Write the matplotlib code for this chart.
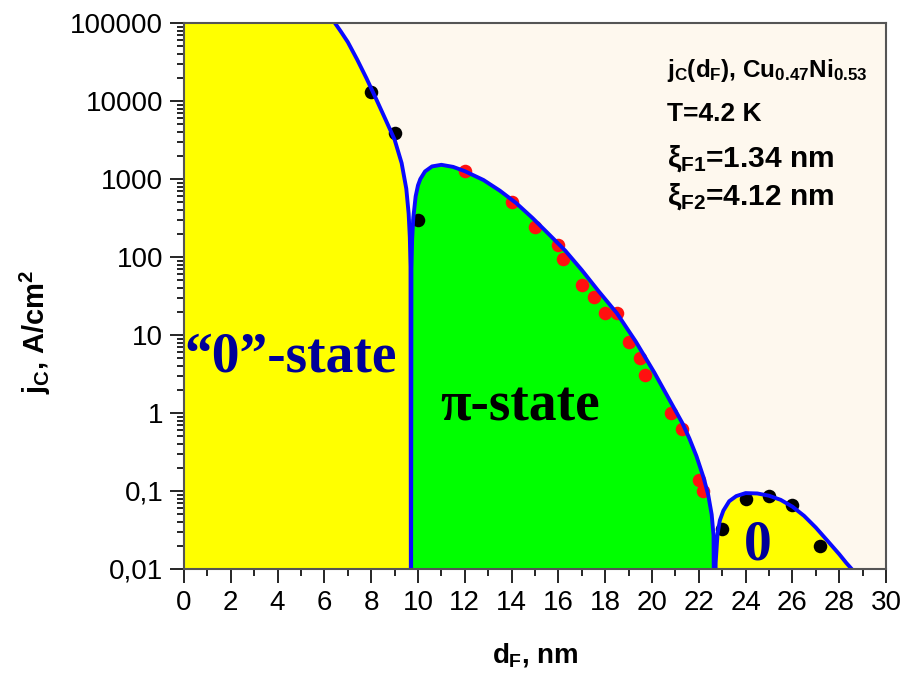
import matplotlib
matplotlib.use('Agg')
import matplotlib.pyplot as plt
from matplotlib.ticker import FixedLocator, FixedFormatter, LogLocator, NullFormatter, MultipleLocator
import numpy as np

# fitted curve, split at the zero crossings
x_zero = [6.3, 6.45, 6.7, 7.0, 7.4, 7.8, 8.2, 8.6, 9.0, 9.3, 9.5, 9.6, 9.65, 9.68, 9.70]
y_zero = [120000, 100000, 78000, 57000, 34000, 19500, 10800, 5900, 3200, 1600, 750, 360, 180, 75, 1e-4]

x_pi = [9.70, 9.72, 9.75, 9.8, 9.9, 10.0, 10.1, 10.3, 10.6, 11.0, 11.5, 12.0, 12.8, 13.5,
        14.2, 14.9, 15.6, 16.3, 17.0, 17.7, 18.5, 19.3, 20.1, 20.8, 21.3, 21.6, 21.9,
        22.2, 22.4, 22.55, 22.63, 22.68]
y_pi = [1e-4, 70, 170, 320, 600, 830, 1000, 1250, 1450, 1520, 1430, 1260, 970, 708,
        490, 315, 195, 120, 68, 37, 19, 8.3, 3.3, 1.38, 0.74, 0.47, 0.28,
        0.15, 0.09, 0.05, 0.027, 1e-4]

x_zero2 = [22.68, 22.72, 22.8, 22.9, 23.05, 23.3, 23.6, 24.0, 24.5, 25.0, 25.5, 26.0,
           26.5, 27.0, 27.5, 28.0, 28.3, 28.6]
y_zero2 = [1e-4, 0.012, 0.028, 0.042, 0.056, 0.074, 0.086, 0.094, 0.093, 0.087, 0.077,
           0.063, 0.048, 0.034, 0.023, 0.0155, 0.012, 0.0095]

# measured points
black1_x = [8, 9, 10]
black1_y = [13000, 3900, 300]
red_x = [12, 14, 15, 16, 16.2, 17, 17.5, 18, 18.5, 19, 19.5, 19.7, 20.8, 21.3, 22.0, 22.2]
red_y = [1260, 510, 245, 143, 94, 44, 31, 19, 19, 8.1, 5.1, 3.1, 1.0, 0.62, 0.14, 0.1]
black2_x = [23.0, 24.0, 25.0, 26.0, 27.2]
black2_y = [0.033, 0.079, 0.087, 0.066, 0.0196]

y_ticks = [0.01, 0.1, 1, 10, 100, 1000, 10000, 100000]
y_ticklabels = ['0,01', '0,1', '1', '10', '100', '1000', '10000', '100000']

plt.rcParams['font.family'] = ['Liberation Sans', 'DejaVu Sans']
plt.rcParams['mathtext.fontset'] = 'custom'
plt.rcParams['mathtext.rm'] = 'Liberation Sans:bold'
plt.rcParams['mathtext.it'] = 'Liberation Sans:bold'
plt.rcParams['mathtext.bf'] = 'Liberation Sans:bold'

clr_bg = '#fef8ee'
clr_yellow = '#ffff00'
clr_green = '#00ff00'
clr_line = '#0a0aff'
clr_navy = '#000099'
floor = 1e-4

fig = plt.figure(figsize=(9.05, 6.78), dpi=100)
ax = fig.add_axes([184/905, 1-569/678, 702/905, 546/678])
ax.set_facecolor(clr_bg)
ax.set_yscale('log')

# coloured regions under the curve
ax.fill_between([0] + x_zero, floor, [1e6] + y_zero, color=clr_yellow, lw=0, zorder=1)
ax.fill_between(x_pi, floor, y_pi, color=clr_green, lw=0, zorder=1)
ax.fill_between(x_zero2, floor, y_zero2, color=clr_yellow, lw=0, zorder=1)

ax.scatter(black1_x, black1_y, s=95, color='black', zorder=3, lw=0)
ax.scatter(red_x, red_y, s=95, color='#ff1010', zorder=3, lw=0)
ax.scatter(black2_x, black2_y, s=95, color='black', zorder=3, lw=0)

ax.plot(x_zero + x_pi[1:] + x_zero2[1:], y_zero + y_pi[1:] + y_zero2[1:],
        color=clr_line, lw=2.8, zorder=4, solid_joinstyle='round')

ax.set_xlim(0, 30)
ax.set_ylim(0.01, 100000)

ax.xaxis.set_major_locator(MultipleLocator(2))
ax.xaxis.set_minor_locator(MultipleLocator(1))
ax.yaxis.set_major_locator(FixedLocator(y_ticks))
ax.yaxis.set_major_formatter(FixedFormatter(y_ticklabels))
ax.yaxis.set_minor_locator(LogLocator(base=10, subs=np.arange(2, 10)))
ax.yaxis.set_minor_formatter(NullFormatter())

ax.tick_params(which='major', direction='out', length=10, width=1.2, labelsize=20, pad=5)
ax.tick_params(which='minor', direction='out', length=5, width=1.2)
ax.tick_params(top=False, right=False)
for sp in ax.spines.values():
    sp.set_color('#555555')
    sp.set_linewidth(1.5)
    sp.set_zorder(5)

fig.text(535/905, 1-655/678, r'$d_F$, nm', fontsize=20, fontweight='bold', ha='center', va='center')
fig.text(35/905, 1-332/678, r'$j_C$, A/cm$^2$', fontsize=21, fontweight='bold',
         rotation=90, ha='center', va='center')

# state labels
ax.text(0.02, 3.36, '\u201c0\u201d-state', family='Liberation Serif', fontweight='bold',
        fontsize=40, color=clr_navy, ha='left', va='baseline', zorder=6)
ax.text(10.94, 0.79, '\u03c0-state', family='Liberation Serif', fontweight='bold',
        fontsize=40, color='black', ha='left', va='baseline', zorder=6)
ax.text(24.5, 0.0134, '0', family='Liberation Serif', fontweight='bold',
        fontsize=40, color=clr_navy, ha='center', va='baseline', zorder=6)

# info box text
ax.text(20.64, 20400, r'$j_C(d_F)$, Cu$_{0.47}$Ni$_{0.53}$', fontsize=17.5, fontweight='bold',
        ha='left', va='baseline', zorder=6)
ax.text(20.64, 5540, 'T=4.2 K', fontsize=19, fontweight='bold', ha='left', va='baseline', zorder=6)
ax.text(20.64, 1425, r'$\xi_{F1}$=1.34 nm', fontsize=21.5, fontweight='bold', ha='left', va='baseline', zorder=6)
ax.text(20.64, 464, r'$\xi_{F2}$=4.12 nm', fontsize=21.5, fontweight='bold', ha='left', va='baseline', zorder=6)

fig.savefig('out.png', dpi=100)
